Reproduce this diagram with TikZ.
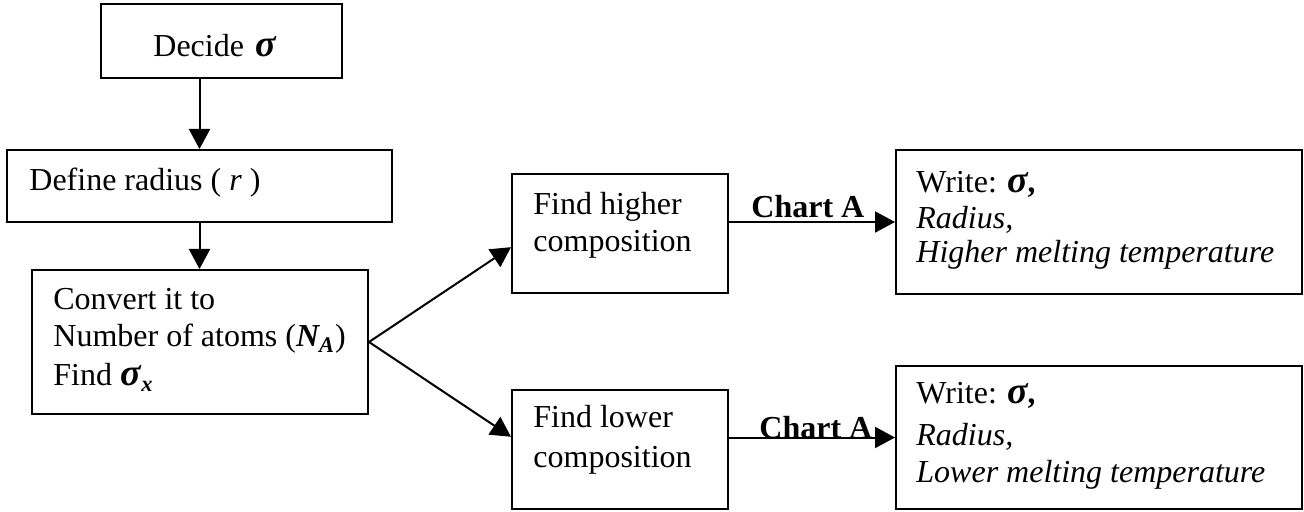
\documentclass[tikz,border=0pt]{standalone}
\usepackage{fontspec}
\setmainfont{Liberation Serif}
\usetikzlibrary{arrows.meta,fit,calc}

% bold italic sigma, set slightly larger than the running text
\newcommand{\bsig}{{\fontsize{19}{18.5}\selectfont\textbf{\textit{σ}}}}

\begin{document}
\begin{tikzpicture}[x=0.5pt,y=-0.5pt,
  box/.style={draw,line width=1pt,rectangle,inner sep=0pt},
  txt/.style={anchor=base west,inner sep=0pt,font=\fontsize{16}{18.5}\selectfont},
  lbl/.style={txt,font=\fontsize{16}{18.5}\selectfont\bfseries},
  arr/.style={line width=1pt,-{Triangle[length=10pt,width=10.5pt]}}]
\useasboundingbox (0,0) rectangle (1304,512);

% boxes
\node[box,fit={(101,4) (342,78)}] (b1) {};
\node[box,fit={(7,150) (392,222)}] (b2) {};
\node[box,fit={(32,270) (368,414)}] (b3) {};
\node[box,fit={(512,174) (728,293)}] (b4) {};
\node[box,fit={(896,150) (1302,294)}] (b5) {};
\node[box,fit={(512,390) (728,509)}] (b6) {};
\node[box,fit={(896,366) (1302,509)}] (b7) {};

% box texts
\node[txt] (t1) at (153,57) {Decide\hspace{5.5pt}\bsig};
\node[txt] (t2) at (29,191) {Define radius ( \textit{r} )};
\node[txt] (t3a) at (53,310) {Convert it to};
\node[txt] (t3b) at (53,347) {Number of atoms (\textbf{\textit{N\textsubscript{A}}})};
\node[txt] (t3c) at (53,386) {Find \bsig\textbf{\textit{\textsubscript{x}}}};
\node[txt] (t4a) at (533,215) {Find higher};
\node[txt] (t4b) at (533,252) {composition};
\node[txt] (t5a) at (916,193) {Write: \bsig\textbf{\textit{,}}};
\node[txt] (t5b) at (916,229) {\textit{Radius,}};
\node[txt] (t5c) at (916,263) {\textit{Higher melting temperature}};
\node[txt] (t6a) at (533,428) {Find lower};
\node[txt] (t6b) at (533,467) {composition};
\node[txt] (t7a) at (916,404) {Write: \bsig\textbf{\textit{,}}};
\node[txt] (t7b) at (916,445) {\textit{Radius,}};
\node[txt] (t7c) at (916,482) {\textit{Lower melting temperature}};

% connectors
\draw[arr] (b1.south -| b2.north) -- (b2.north);
\draw[arr] (b2.south) -- (b3.north -| b2.south);
\coordinate (j4) at ($(b4.north west)!0.613!(b4.south west)$);
\coordinate (j6) at ($(b6.north west)!0.395!(b6.south west)$);
\draw[arr] (b3.east) -- (j4);
\draw[arr] (b3.east) -- (j6);
\draw[arr] (b4.east |- b5.west) -- (b5.west);
\draw[arr] (b6.east |- b7.west) -- (b7.west);

% connector labels
\node[lbl] (c1) at (751,218) {Chart A};
\node[lbl] (c2) at (759,438) {Chart A};
\end{tikzpicture}
\end{document}
